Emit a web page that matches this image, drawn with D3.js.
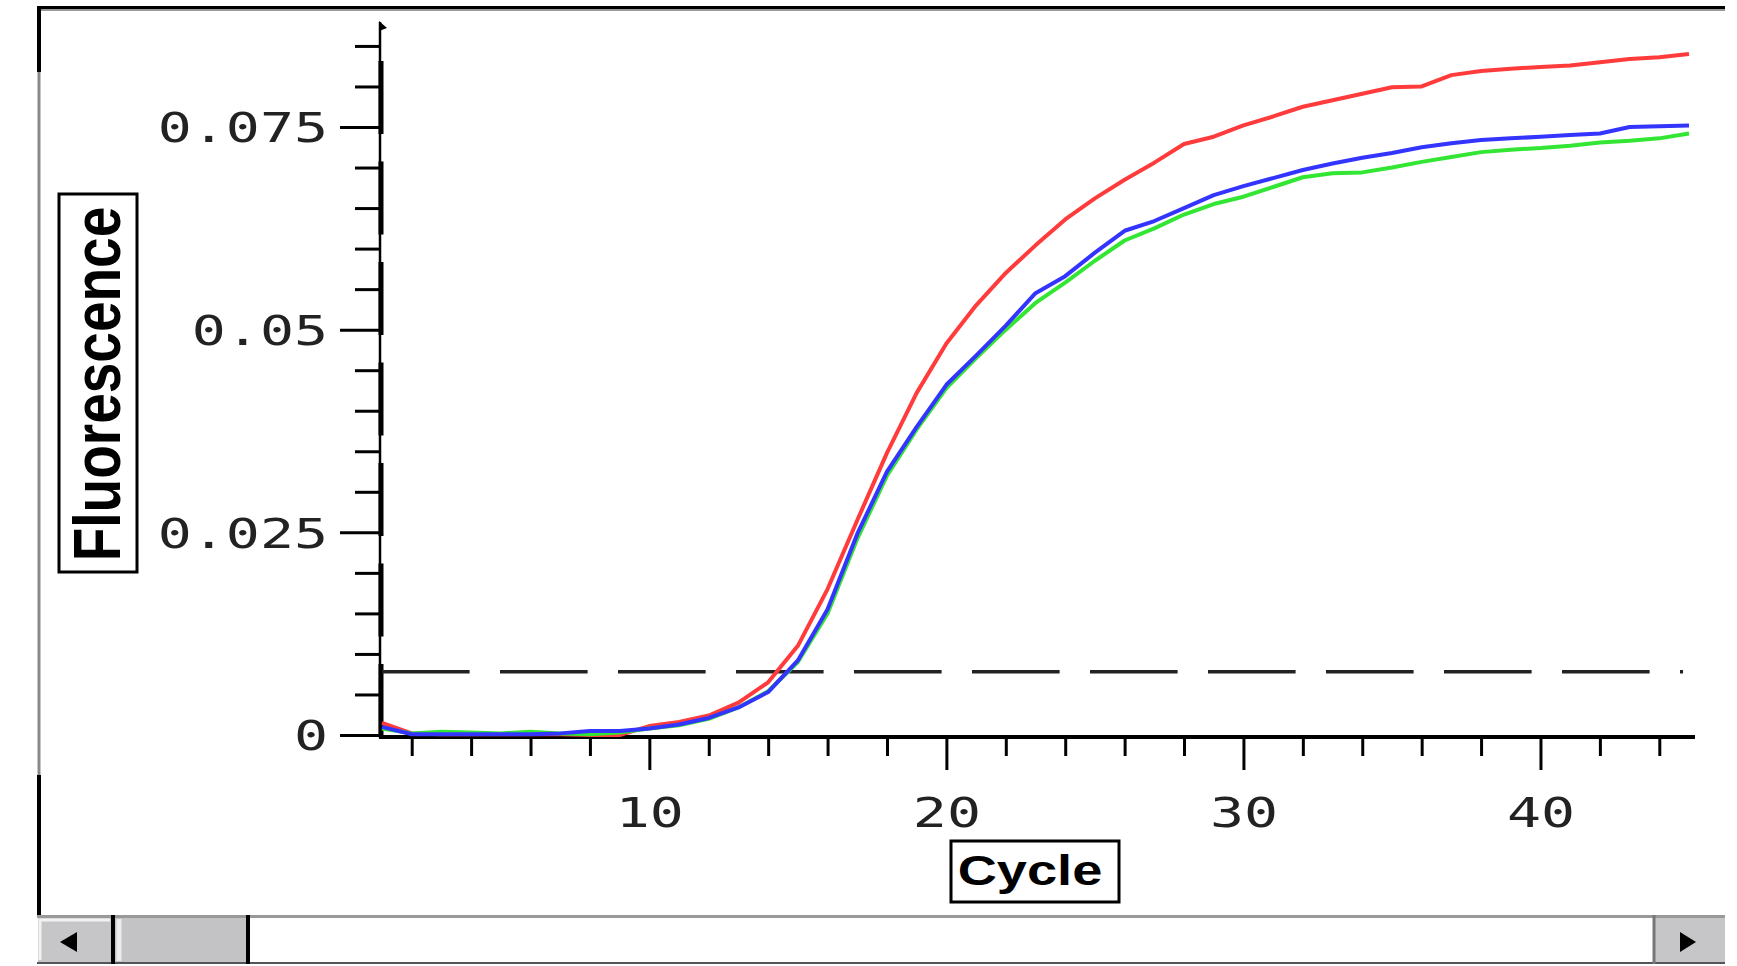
<!DOCTYPE html>
<html>
<head>
<meta charset="utf-8">
<script src="https://cdn.jsdelivr.net/npm/d3@7"></script>
<style>
  body { margin: 0; background: #fff; }
  svg  { display: block; }
</style>
</head>
<body>
<svg id="chart" width="1737" height="966"></svg>
<script>
/* qPCR amplification plot – Fluorescence vs Cycle */

const cycles = d3.range(1, 46);

const redSeries = [
  0.0015, 0.0002, 0.0001, 0.0001, 0.0001, 0.0001, 0.0001, 0.0000, 0.0000, 0.0011,
  0.0016, 0.0024, 0.0040, 0.0065, 0.0110, 0.0180, 0.0265, 0.0348, 0.0422, 0.0483,
  0.0530, 0.0570, 0.0604, 0.0636, 0.0662, 0.0685, 0.0706, 0.0729, 0.0738, 0.0752,
  0.0763, 0.0775, 0.0783, 0.0791, 0.0799, 0.0800, 0.0814, 0.0819, 0.0822, 0.0824,
  0.0826, 0.0830, 0.0834, 0.0836, 0.0840
];
const greenSeries = [
  0.0008, 0.0002, 0.0004, 0.0003, 0.0002, 0.0004, 0.0002, 0.0001, 0.0003, 0.0008,
  0.0012, 0.0020, 0.0034, 0.0054, 0.0090, 0.0150, 0.0242, 0.0320, 0.0377, 0.0428,
  0.0465, 0.0500, 0.0533, 0.0558, 0.0585, 0.0610, 0.0625, 0.0642, 0.0655, 0.0664,
  0.0676, 0.0688, 0.0693, 0.0694, 0.0700, 0.0707, 0.0713, 0.0719, 0.0722, 0.0724,
  0.0727, 0.0731, 0.0733, 0.0736, 0.0742
];
const blueSeries = [
  0.0010, 0.0001, 0.0001, 0.0001, 0.0001, 0.0001, 0.0002, 0.0005, 0.0005, 0.0008,
  0.0013, 0.0021, 0.0034, 0.0053, 0.0092, 0.0155, 0.0248, 0.0325, 0.0380, 0.0432,
  0.0468, 0.0505, 0.0545, 0.0566, 0.0595, 0.0622, 0.0634, 0.0650, 0.0666, 0.0677,
  0.0687, 0.0697, 0.0705, 0.0712, 0.0718, 0.0725, 0.0730, 0.0734, 0.0736, 0.0738,
  0.0740, 0.0742, 0.0750, 0.0751, 0.0752
];

const yMajorTicks  = [0, 0.025, 0.05, 0.075];
const yTickLabels  = ["0", "0.025", "0.05", "0.075"];
const xMajorTicks  = [10, 20, 30, 40];
const threshold    = 0.0078;
const xTitle = "Cycle";
const yTitle = "Fluorescence";

const series = [
  { name: "red",   values: redSeries,   color: "#ff3b3b" },
  { name: "green", values: greenSeries, color: "#33e633" },
  { name: "blue",  values: blueSeries,  color: "#3434ff" }
];

const svg = d3.select("#chart");

/* -- scales --------------------------------------------------------------- */
const x = d3.scaleLinear().domain([1, 45]).range([382, 1689]);
const y = d3.scaleLinear().domain([0, 0.075]).range([735, 127]);
const x0 = x(1);

/* -- window frame + scrollbar -------------------------------------------- */
const frame = svg.append("g");
frame.append("line").attr("x1", 37).attr("x2", 1725).attr("y1", 10).attr("y2", 10)
  .attr("stroke", "#999").attr("stroke-width", 2);
frame.append("line").attr("x1", 37).attr("x2", 1725).attr("y1", 7.5).attr("y2", 7.5)
  .attr("stroke", "#000").attr("stroke-width", 3);
frame.append("line").attr("x1", 39).attr("x2", 39).attr("y1", 7).attr("y2", 915)
  .attr("stroke", "#8a8a8a").attr("stroke-width", 3);
frame.append("line").attr("x1", 39).attr("x2", 39).attr("y1", 7).attr("y2", 72)
  .attr("stroke", "#000").attr("stroke-width", 4);
frame.append("line").attr("x1", 39).attr("x2", 39).attr("y1", 775).attr("y2", 915)
  .attr("stroke", "#000").attr("stroke-width", 4);

const sb = svg.append("g");
sb.append("rect").attr("x", 37).attr("y", 915).attr("width", 1688).attr("height", 49)
  .attr("fill", "#fff");
sb.append("line").attr("x1", 37).attr("x2", 1725).attr("y1", 916.5).attr("y2", 916.5)
  .attr("stroke", "#999").attr("stroke-width", 3);
sb.append("line").attr("x1", 37).attr("x2", 1725).attr("y1", 963).attr("y2", 963)
  .attr("stroke", "#555").attr("stroke-width", 2);
// left arrow button
sb.append("rect").attr("x", 38).attr("y", 918).attr("width", 74).attr("height", 44)
  .attr("fill", "#c6c6c8");
sb.append("path").attr("d", "M40,960 V920 H110").attr("fill", "none")
  .attr("stroke", "#f2f2f2").attr("stroke-width", 3);
sb.append("path").attr("d", "M60,942 L77,932 L77,952 Z").attr("fill", "#000");
sb.append("line").attr("x1", 113).attr("x2", 113).attr("y1", 915).attr("y2", 964)
  .attr("stroke", "#000").attr("stroke-width", 4);
// thumb
sb.append("rect").attr("x", 115).attr("y", 918).attr("width", 132).attr("height", 44)
  .attr("fill", "#c3c3c6");
sb.append("line").attr("x1", 119).attr("x2", 119).attr("y1", 919).attr("y2", 961)
  .attr("stroke", "#ececec").attr("stroke-width", 5);
sb.append("line").attr("x1", 248).attr("x2", 248).attr("y1", 915).attr("y2", 964)
  .attr("stroke", "#000").attr("stroke-width", 4);
// right arrow button
sb.append("rect").attr("x", 1654).attr("y", 918).attr("width", 71).attr("height", 44)
  .attr("fill", "#c6c6c8");
sb.append("line").attr("x1", 1654).attr("x2", 1654).attr("y1", 915).attr("y2", 964)
  .attr("stroke", "#777").attr("stroke-width", 3);
sb.append("path").attr("d", "M1696,942 L1680,932 L1680,952 Z").attr("fill", "#000");

/* -- axes ---------------------------------------------------------------- */
const tickFont = "'DejaVu Sans Mono', 'Liberation Mono', monospace";
const stretch = 1.38;   // source picture is stretched sideways

// y minor ticks
const yMinor = d3.range(0, 0.0851, 0.005).filter(v => !yMajorTicks.some(m => Math.abs(m - v) < 1e-6));
svg.append("g")
  .attr("transform", `translate(${x0 - 2},0)`)
  .call(d3.axisLeft(y).tickValues(yMinor).tickSize(25).tickSizeOuter(0).tickFormat(""))
  .call(g => g.select(".domain").remove())
  .call(g => g.selectAll("line").attr("stroke", "#000").attr("stroke-width", 3));

// y major ticks with labels
svg.append("g")
  .attr("transform", `translate(${x0 - 2},0)`)
  .call(d3.axisLeft(y).tickValues(yMajorTicks).tickSize(40).tickSizeOuter(0)
          .tickFormat((d, i) => yTickLabels[i]))
  .call(g => g.select(".domain").remove())
  .call(g => g.selectAll("line").attr("stroke", "#000").attr("stroke-width", 3))
  .call(g => g.selectAll("text")
      .attr("x", 0).attr("dy", "0.36em")
      .attr("transform", `translate(-52,0) scale(${stretch},1)`)
      .attr("text-anchor", "end")
      .attr("fill", "#222")
      .style("font-family", tickFont).style("font-size", "41px"));

// y axis line + thick dashed overlay + small flag at top
svg.append("line").attr("x1", x0 - 2).attr("x2", x0 - 2).attr("y1", 22).attr("y2", 738)
  .attr("stroke", "#000").attr("stroke-width", 2.5);
svg.append("line").attr("x1", x0 - 1).attr("x2", x0 - 1).attr("y1", y(0) + 2).attr("y2", 58)
  .attr("stroke", "#000").attr("stroke-width", 5).attr("stroke-dasharray", "73,27.5");
svg.append("path").attr("d", `M${x0 - 3},21 L${x0 + 5},28 L${x0 - 3},31 Z`).attr("fill", "#000");

// x minor ticks
const xMinor = d3.range(2, 45, 2).filter(v => !xMajorTicks.includes(v));
svg.append("g")
  .attr("transform", `translate(0,${y(0) + 2})`)
  .call(d3.axisBottom(x).tickValues(xMinor).tickSize(19).tickSizeOuter(0).tickFormat(""))
  .call(g => g.select(".domain").remove())
  .call(g => g.selectAll("line").attr("stroke", "#000").attr("stroke-width", 3));

// x major ticks with labels
svg.append("g")
  .attr("transform", `translate(0,${y(0) + 2})`)
  .call(d3.axisBottom(x).tickValues(xMajorTicks).tickSize(33).tickSizeOuter(0))
  .call(g => g.select(".domain").remove())
  .call(g => g.selectAll("line").attr("stroke", "#000").attr("stroke-width", 3))
  .call(g => g.selectAll("text")
      .attr("y", 0).attr("dy", null)
      .attr("transform", `translate(0,90) scale(${stretch},1)`)
      .attr("text-anchor", "middle")
      .attr("fill", "#222")
      .style("font-family", tickFont).style("font-size", "41px"));

// x axis line
svg.append("line").attr("x1", x0 - 3).attr("x2", 1695).attr("y1", y(0) + 2).attr("y2", y(0) + 2)
  .attr("stroke", "#000").attr("stroke-width", 4);

/* -- threshold line -------------------------------------------------------- */
svg.append("line")
  .attr("x1", x0).attr("x2", x(44.8))
  .attr("y1", y(threshold)).attr("y2", y(threshold))
  .attr("stroke", "#222").attr("stroke-width", 3.5)
  .attr("stroke-dasharray", "87.6,30.4");

/* -- curves ---------------------------------------------------------------- */
const line = d3.line()
  .x((d, i) => x(cycles[i]))
  .y(d => y(d));

svg.append("g").selectAll("path")
  .data(series)
  .join("path")
    .attr("d", d => line(d.values))
    .attr("fill", "none")
    .attr("stroke", d => d.color)
    .attr("stroke-width", 4)
    .attr("stroke-linejoin", "round");

/* -- boxed axis titles ----------------------------------------------------- */
const titleFont = "'Liberation Sans', Arial, sans-serif";

svg.append("rect").attr("x", 951).attr("y", 841).attr("width", 168).attr("height", 61)
  .attr("fill", "none").attr("stroke", "#000").attr("stroke-width", 3);
svg.append("text")
  .attr("transform", `translate(1030,885) scale(1.29,1)`)
  .attr("text-anchor", "middle")
  .style("font-family", titleFont).style("font-weight", "bold").style("font-size", "42px")
  .text(xTitle);

svg.append("rect").attr("x", 59).attr("y", 194).attr("width", 78).attr("height", 378)
  .attr("fill", "none").attr("stroke", "#000").attr("stroke-width", 3);
svg.append("text")
  .attr("transform", `translate(120,384) scale(1.21,1) rotate(-90)`)
  .attr("text-anchor", "middle")
  .style("font-family", titleFont).style("font-weight", "bold").style("font-size", "55px")
  .text(yTitle);
</script>
</body>
</html>
